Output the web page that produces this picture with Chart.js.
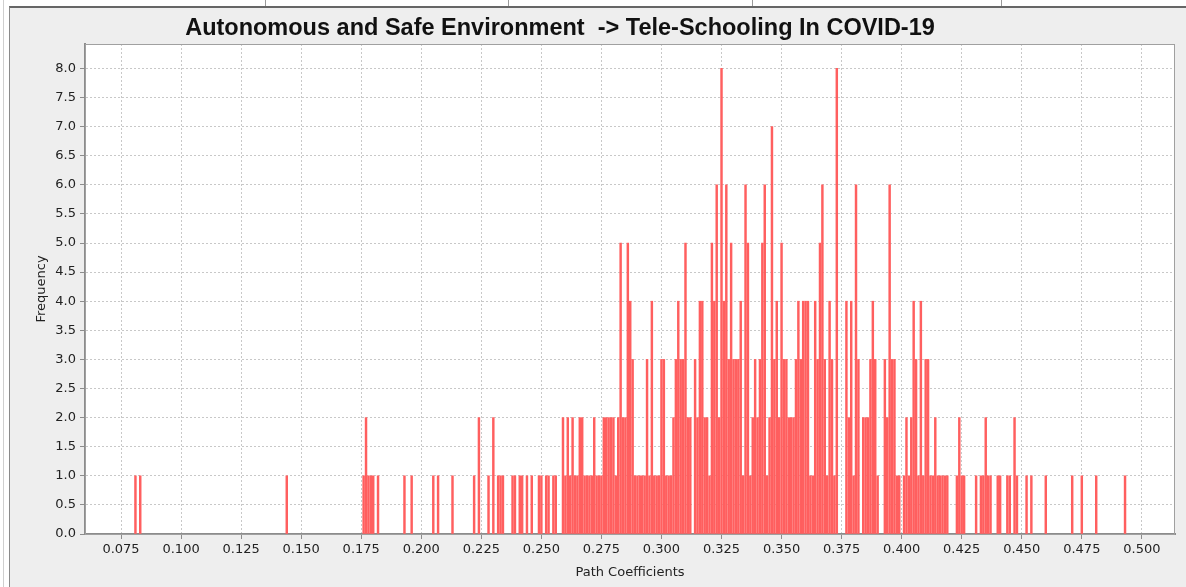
<!DOCTYPE html>
<html>
<head>
<meta charset="utf-8">
<script src="https://cdn.jsdelivr.net/npm/chart.js@4.4.1/dist/chart.umd.min.js"></script>
<style>
  body { margin: 0; background: #fff; width: 1186px; height: 587px; overflow: hidden; position: relative; }
  .edge { position: absolute; left: 3px; top: 0; width: 1px; height: 587px; background: #cfcfcf; }
  .cell { position: absolute; top: 0; height: 6px; border-right: 1px solid #9a9a9a; }
  .panel { position: absolute; left: 9px; top: 6px; width: 1177px; height: 581px; background: #eeeeee;
           border-top: 2px solid #666; border-left: 1px solid #8a8a8a; box-sizing: border-box; }
  .title { position: absolute; left: 0; top: 13px; width: 1120px; text-align: center;
           font: bold 23.5px "Liberation Sans", Arial, sans-serif; color: #111; line-height: 28px; white-space: pre; }
  canvas { position: absolute; left: 0; top: 0; }
</style>
</head>
<body>
<div class="edge"></div>
<div class="cell" style="left:265px;width:242px;border-left:1px solid #9a9a9a"></div>
<div class="cell" style="left:508px;width:244px"></div>
<div class="cell" style="left:753px;width:248px"></div>
<div class="panel"></div>
<canvas id="chart" width="1186" height="587"></canvas>
<div class="title">Autonomous and Safe Environment  -&gt; Tele-Schooling In COVID-19</div>
<script>
var pathCoefficients = [
  0.081, 0.083, 0.144, 0.176, 0.177, 0.178, 0.179, 0.180, 0.182, 0.193, 0.196, 0.205, 0.207, 0.213,
  0.222, 0.224, 0.228, 0.230, 0.232, 0.233, 0.234, 0.238, 0.239, 0.241, 0.242, 0.244, 0.246, 0.249,
  0.250, 0.252, 0.253, 0.255, 0.256, 0.259, 0.260, 0.261, 0.262, 0.263, 0.264, 0.265, 0.266, 0.267,
  0.268, 0.269, 0.270, 0.271, 0.272, 0.273, 0.274, 0.275, 0.276, 0.277, 0.278, 0.279, 0.280, 0.281,
  0.282, 0.283, 0.284, 0.285, 0.286, 0.287, 0.288, 0.289, 0.290, 0.291, 0.292, 0.293, 0.294, 0.295,
  0.296, 0.297, 0.298, 0.299, 0.300, 0.301, 0.302, 0.303, 0.304, 0.305, 0.306, 0.307, 0.308, 0.309,
  0.310, 0.311, 0.312, 0.314, 0.315, 0.316, 0.317, 0.318, 0.319, 0.320, 0.321, 0.322, 0.323, 0.324,
  0.325, 0.326, 0.327, 0.328, 0.329, 0.330, 0.331, 0.332, 0.333, 0.334, 0.335, 0.336, 0.337, 0.338,
  0.339, 0.340, 0.341, 0.342, 0.343, 0.344, 0.345, 0.346, 0.347, 0.348, 0.349, 0.350, 0.351, 0.352,
  0.353, 0.354, 0.355, 0.356, 0.357, 0.358, 0.359, 0.360, 0.361, 0.362, 0.363, 0.364, 0.365, 0.366,
  0.367, 0.368, 0.369, 0.370, 0.371, 0.372, 0.373, 0.377, 0.378, 0.379, 0.380, 0.381, 0.382, 0.384,
  0.385, 0.386, 0.387, 0.388, 0.389, 0.390, 0.393, 0.394, 0.395, 0.396, 0.397, 0.398, 0.399, 0.401,
  0.402, 0.403, 0.404, 0.405, 0.406, 0.407, 0.408, 0.409, 0.410, 0.411, 0.412, 0.413, 0.414, 0.415,
  0.416, 0.417, 0.418, 0.419, 0.423, 0.424, 0.425, 0.426, 0.431, 0.433, 0.434, 0.435, 0.436, 0.437,
  0.440, 0.441, 0.444, 0.445, 0.447, 0.448, 0.452, 0.454, 0.460, 0.471, 0.475, 0.481, 0.493
];
var frequencies = [
  1, 1, 1, 1, 2, 1, 1, 1, 1, 1, 1, 1, 1, 1,
  1, 2, 1, 2, 1, 1, 1, 1, 1, 1, 1, 1, 1, 1,
  1, 1, 1, 1, 1, 2, 1, 2, 1, 2, 1, 1, 2, 2,
  1, 1, 1, 1, 2, 1, 1, 1, 2, 2, 2, 2, 2, 1,
  2, 5, 2, 2, 5, 4, 3, 1, 1, 1, 1, 1, 3, 1,
  4, 1, 1, 1, 3, 3, 1, 1, 1, 2, 3, 4, 3, 3,
  5, 2, 2, 3, 2, 4, 4, 2, 2, 1, 5, 4, 6, 2,
  8, 4, 6, 3, 5, 3, 3, 3, 4, 1, 6, 5, 1, 2,
  3, 2, 3, 5, 6, 1, 2, 7, 3, 4, 2, 5, 3, 3,
  2, 2, 2, 3, 4, 3, 4, 4, 4, 1, 1, 4, 3, 5,
  6, 3, 1, 4, 3, 1, 8, 4, 2, 4, 1, 6, 3, 2,
  2, 2, 3, 4, 3, 1, 3, 2, 6, 3, 3, 1, 1, 1,
  2, 1, 2, 4, 3, 1, 4, 1, 3, 3, 1, 1, 2, 1,
  1, 1, 1, 1, 1, 2, 1, 1, 1, 1, 1, 2, 1, 1,
  1, 1, 1, 1, 2, 1, 1, 1, 1, 1, 1, 1, 1
];
var xTickLabels = ['0.075', '0.100', '0.125', '0.150', '0.175', '0.200', '0.225', '0.250', '0.275',
  '0.300', '0.325', '0.350', '0.375', '0.400', '0.425', '0.450', '0.475', '0.500'];
var yTickLabels = ['0.0', '0.5', '1.0', '1.5', '2.0', '2.5', '3.0', '3.5', '4.0', '4.5', '5.0',
  '5.5', '6.0', '6.5', '7.0', '7.5', '8.0'];

var tickFont = { family: 'DejaVu Sans', size: 13 };
var textColor = '#222';

// white plot background + thin frame, like the original panel
var plotFrame = {
  id: 'plotFrame',
  beforeDraw: function (chart) {
    var a = chart.chartArea, ctx = chart.ctx;
    ctx.save();
    ctx.fillStyle = '#fff';
    ctx.fillRect(a.left, a.top, a.right - a.left, a.bottom - a.top);
    ctx.restore();
  },
  afterDraw: function (chart) {
    var a = chart.chartArea, ctx = chart.ctx;
    ctx.save();
    ctx.strokeStyle = '#a0a0a0';
    ctx.lineWidth = 1;
    ctx.strokeRect(a.left + 0.5, a.top + 0.5, a.right - a.left - 1, a.bottom - a.top);
    ctx.restore();
  }
};

var ctx = document.getElementById('chart').getContext('2d');
new Chart(ctx, {
  type: 'bar',
  data: {
    datasets: [{
      data: pathCoefficients.map(function (x, i) { return { x: x, y: frequencies[i] }; }),
      backgroundColor: '#ff5f5f',
      borderWidth: 0,
      barThickness: 1.8
    }]
  },
  options: {
    responsive: false,
    animation: false,
    layout: { padding: { top: 44, right: 11, left: 28, bottom: 5 } },
    plugins: { legend: { display: false }, tooltip: { enabled: false } },
    scales: {
      x: {
        type: 'linear',
        min: 0.0600,
        max: 0.5138,
        offset: false,
        afterBuildTicks: function (axis) {
          axis.ticks = xTickLabels.map(function (s) { return { value: parseFloat(s) }; });
        },
        afterFit: function (axis) { axis.height = 48; },
        ticks: {
          autoSkip: false, maxRotation: 0, padding: 3, font: tickFont, color: textColor,
          callback: function (v, i) { return xTickLabels[i]; }
        },
        grid: { color: '#c8c8c8', offset: false, tickLength: 5, tickColor: '#8c8c8c', tickBorderDash: [] },
        border: { color: '#8c8c8c', width: 2, dash: [2, 2] },
        title: { display: true, text: 'Path Coefficients', font: { family: 'DejaVu Sans', size: 13 },
                 color: textColor, padding: { top: 0, bottom: 2 } }
      },
      y: {
        min: 0,
        max: 8.42,
        afterBuildTicks: function (axis) {
          axis.ticks = yTickLabels.map(function (s) { return { value: parseFloat(s) }; });
        },
        afterFit: function (axis) { axis.width = 57; },
        ticks: {
          padding: 4, font: tickFont, color: textColor,
          callback: function (v, i) { return yTickLabels[i]; }
        },
        grid: { color: '#c8c8c8', tickLength: 5, tickColor: '#8c8c8c', tickBorderDash: [] },
        border: { color: '#8c8c8c', width: 2, dash: [2, 2] },
        title: { display: true, text: 'Frequency', font: { family: 'DejaVu Sans', size: 13 },
                 color: textColor, padding: { top: 6, bottom: 0 } }
      }
    }
  },
  plugins: [plotFrame]
});
</script>
</body>
</html>
